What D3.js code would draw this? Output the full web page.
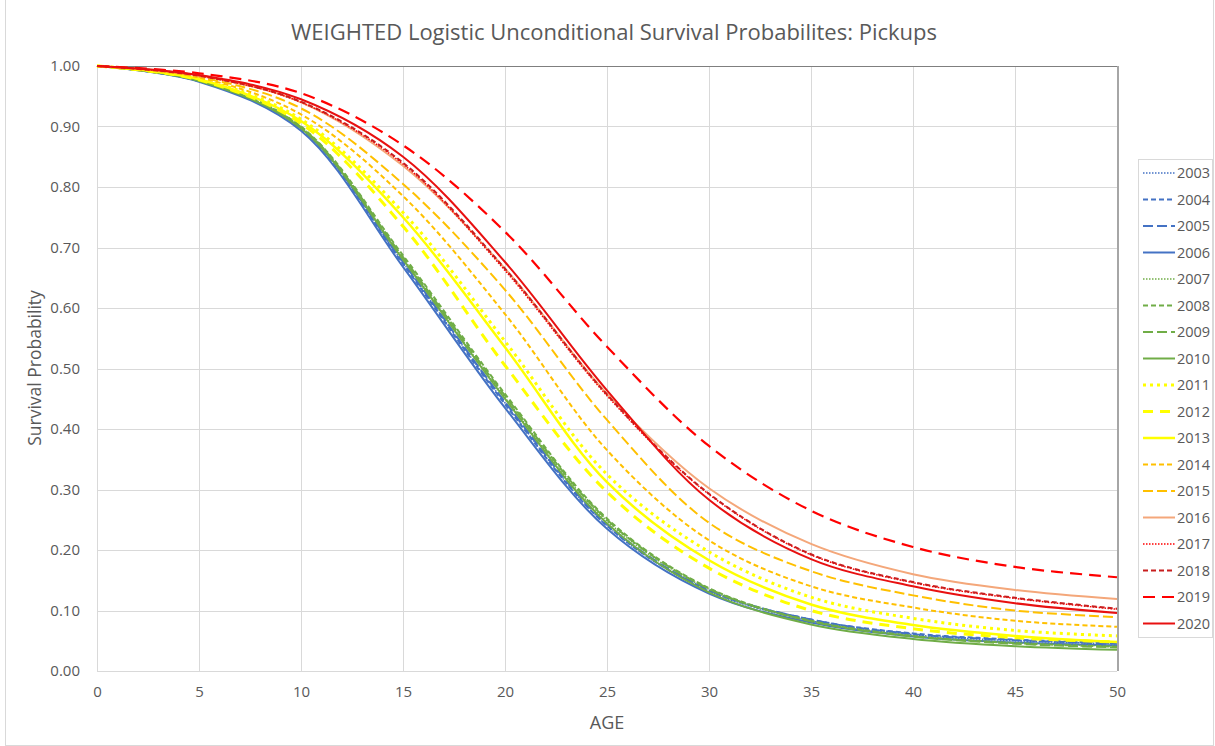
<!DOCTYPE html>
<html>
<head>
<meta charset="utf-8">
<script src="https://cdn.jsdelivr.net/npm/d3@7"></script>
<style>
  html, body { margin: 0; padding: 0; background: #fff; }
  svg { display: block; font-family: "Open Sans", "Noto Sans", sans-serif; }
</style>
</head>
<body>
<svg id="chart" width="1215" height="746"></svg>
<script>
// Vehicle age (years) at which survival probabilities are tabulated
const ages = [0, 5, 10, 15, 20, 25, 30, 35, 40, 45, 50];

// Survival probability by model year
const s2003 = [1, 0.975, 0.897, 0.675, 0.443, 0.240, 0.132, 0.083, 0.060, 0.050, 0.045];
const s2004 = [1, 0.975, 0.896, 0.673, 0.441, 0.240, 0.133, 0.085, 0.062, 0.052, 0.046];
const s2005 = [1, 0.975, 0.897, 0.676, 0.445, 0.243, 0.134, 0.085, 0.061, 0.051, 0.045];
const s2006 = [1, 0.974, 0.893, 0.668, 0.435, 0.235, 0.128, 0.080, 0.057, 0.047, 0.042];
const s2007 = [1, 0.976, 0.899, 0.682, 0.452, 0.248, 0.135, 0.083, 0.058, 0.047, 0.041];
const s2008 = [1, 0.976, 0.900, 0.687, 0.458, 0.252, 0.137, 0.083, 0.058, 0.046, 0.040];
const s2009 = [1, 0.976, 0.899, 0.684, 0.455, 0.250, 0.136, 0.082, 0.057, 0.045, 0.039];
const s2010 = [1, 0.975, 0.897, 0.680, 0.450, 0.244, 0.130, 0.077, 0.053, 0.041, 0.035];
const s2011 = [1, 0.979, 0.912, 0.758, 0.545, 0.325, 0.197, 0.122, 0.087, 0.067, 0.058];
const s2012 = [1, 0.977, 0.905, 0.735, 0.505, 0.296, 0.170, 0.100, 0.070, 0.055, 0.048];
const s2013 = [1, 0.978, 0.909, 0.750, 0.535, 0.312, 0.183, 0.110, 0.076, 0.058, 0.048];
const s2014 = [1, 0.981, 0.920, 0.785, 0.590, 0.365, 0.216, 0.140, 0.105, 0.083, 0.073];
const s2015 = [1, 0.982, 0.930, 0.805, 0.630, 0.415, 0.245, 0.165, 0.125, 0.100, 0.089];
const s2016 = [1, 0.984, 0.940, 0.835, 0.665, 0.458, 0.302, 0.210, 0.160, 0.134, 0.119];
const s2017 = [1, 0.984, 0.940, 0.838, 0.662, 0.455, 0.292, 0.192, 0.146, 0.120, 0.102];
const s2018 = [1, 0.984, 0.941, 0.840, 0.665, 0.457, 0.293, 0.193, 0.147, 0.121, 0.103];
const s2019 = [1, 0.988, 0.955, 0.869, 0.726, 0.536, 0.372, 0.265, 0.205, 0.172, 0.155];
const s2020 = [1, 0.985, 0.945, 0.850, 0.676, 0.464, 0.283, 0.185, 0.140, 0.112, 0.096];

// Axis tick values
const xTicks = [0, 5, 10, 15, 20, 25, 30, 35, 40, 45, 50];
const yTicks = [0, 0.1, 0.2, 0.3, 0.4, 0.5, 0.6, 0.7, 0.8, 0.9, 1.0];

// Line style per model year
const BLUE = "#4472C4", GREEN = "#70AD47", YELLOW = "#FFFF00",
      ORANGE = "#FFC000", SALMON = "#F4A77A", RED = "#FF0000", DARKRED = "#C81E1E";
const DOT = "1.5,1.5", DASH = "5,3", LONG = "10,4";

const series = [
  { year: "2003", values: s2003, color: BLUE,   width: 1.5, dash: DOT },
  { year: "2004", values: s2004, color: BLUE,   width: 2,   dash: DASH },
  { year: "2005", values: s2005, color: BLUE,   width: 2,   dash: LONG },
  { year: "2006", values: s2006, color: BLUE,   width: 2,   dash: null },
  { year: "2007", values: s2007, color: GREEN,  width: 1.5, dash: DOT },
  { year: "2008", values: s2008, color: GREEN,  width: 2,   dash: DASH },
  { year: "2009", values: s2009, color: GREEN,  width: 2,   dash: LONG },
  { year: "2010", values: s2010, color: GREEN,  width: 2,   dash: null },
  { year: "2011", values: s2011, color: YELLOW, width: 3,   dash: "3,4" },
  { year: "2012", values: s2012, color: YELLOW, width: 3,   dash: "10,7" },
  { year: "2013", values: s2013, color: YELLOW, width: 2.5, dash: null },
  { year: "2014", values: s2014, color: ORANGE, width: 2,   dash: DASH },
  { year: "2015", values: s2015, color: ORANGE, width: 2,   dash: LONG },
  { year: "2016", values: s2016, color: SALMON, width: 2,   dash: null },
  { year: "2017", values: s2017, color: RED,    width: 1.5, dash: DOT },
  { year: "2018", values: s2018, color: DARKRED,width: 2,   dash: DASH },
  { year: "2019", values: s2019, color: RED,    width: 2.2, dash: "12,7" },
  { year: "2020", values: s2020, color: "#E81010", width: 2, dash: null }
];

const svg = d3.select("#chart");
const TEXT = "#595959";

// Outer chart frame
svg.append("rect")
  .attr("x", 5.5).attr("y", -1).attr("width", 1208).attr("height", 746.5)
  .attr("fill", "none").attr("stroke", "#D9D9D9");

const x = d3.scaleLinear().domain([0, 50]).range([97, 1117]);
const y = d3.scaleLinear().domain([0, 1]).range([671, 66]);

// Gridlines
const grid = svg.append("g");
grid.selectAll("line.h").data(yTicks).join("line")
  .attr("x1", x(0)).attr("x2", x(50))
  .attr("y1", d => Math.round(y(d)) + 0.5).attr("y2", d => Math.round(y(d)) + 0.5)
  .attr("stroke", "#D9D9D9").attr("stroke-width", 1);
grid.selectAll("line.v").data(xTicks).join("line")
  .attr("y1", y(0)).attr("y2", y(1))
  .attr("x1", d => Math.round(x(d)) + 0.5).attr("x2", d => Math.round(x(d)) + 0.5)
  .attr("stroke", "#D9D9D9").attr("stroke-width", 1);

// Plot frame top and right edges
svg.append("line")
  .attr("x1", x(0)).attr("x2", x(50)).attr("y1", y(1) + 0.5).attr("y2", y(1) + 0.5)
  .attr("stroke", "#7F7F7F").attr("stroke-width", 1);
svg.append("line")
  .attr("x1", x(50) + 1).attr("x2", x(50) + 1).attr("y1", y(1)).attr("y2", y(0))
  .attr("stroke", "#A6A6A6").attr("stroke-width", 2);

// Axes (labels only; lines come from the grid)
const yAxis = svg.append("g")
  .attr("transform", `translate(${x(0) - 14},0)`)
  .call(d3.axisLeft(y).tickValues(yTicks).tickFormat(d3.format(".2f")).tickSize(0));
const xAxis = svg.append("g")
  .attr("transform", `translate(0,${y(0) + 12})`)
  .call(d3.axisBottom(x).tickValues(xTicks).tickFormat(d3.format("d")).tickSize(0));
[yAxis, xAxis].forEach(a => {
  a.select(".domain").remove();
  a.selectAll("text").attr("fill", TEXT).style("font-size", "15px")
    .style("font-family", "'Open Sans', sans-serif");
});

// Survival curves
const line = d3.line()
  .x((d, i) => x(ages[i]))
  .y(d => y(d))
  .curve(d3.curveCatmullRom.alpha(0.5));

const plot = svg.append("g");
plot.selectAll("path").data(series).join("path")
  .attr("d", s => line(s.values))
  .attr("fill", "none")
  .attr("stroke", s => s.color)
  .attr("stroke-width", s => s.width)
  .attr("stroke-dasharray", s => s.dash)
  .attr("stroke-linejoin", "round");

// Title and axis titles
svg.append("text")
  .attr("x", 614).attr("y", 40).attr("text-anchor", "middle")
  .attr("fill", TEXT).style("font-size", "22px")
  .text("WEIGHTED Logistic Unconditional Survival Probabilites: Pickups");
svg.append("text")
  .attr("x", 607).attr("y", 729).attr("text-anchor", "middle")
  .attr("fill", TEXT).style("font-size", "18px")
  .text("AGE");
svg.append("text")
  .attr("transform", "translate(41,368) rotate(-90)").attr("text-anchor", "middle")
  .attr("fill", TEXT).style("font-size", "17.5px")
  .text("Survival Probability");

// Legend
const legend = svg.append("g");
legend.append("rect")
  .attr("x", 1138.5).attr("y", 159.5).attr("width", 74).attr("height", 478)
  .attr("fill", "#fff").attr("stroke", "#D9D9D9");
const item = legend.selectAll("g.item").data(series).join("g")
  .attr("transform", (d, i) => `translate(0,${173 + i * 26.5})`);
item.append("line")
  .attr("x1", 1143).attr("x2", 1175).attr("y1", 0).attr("y2", 0)
  .attr("stroke", s => s.color)
  .attr("stroke-width", s => s.width)
  .attr("stroke-dasharray", s => s.dash);
item.append("text")
  .attr("x", 1177).attr("y", 0).attr("dy", "0.35em")
  .attr("fill", TEXT).style("font-size", "14.5px")
  .text(s => s.year);
</script>
</body>
</html>
